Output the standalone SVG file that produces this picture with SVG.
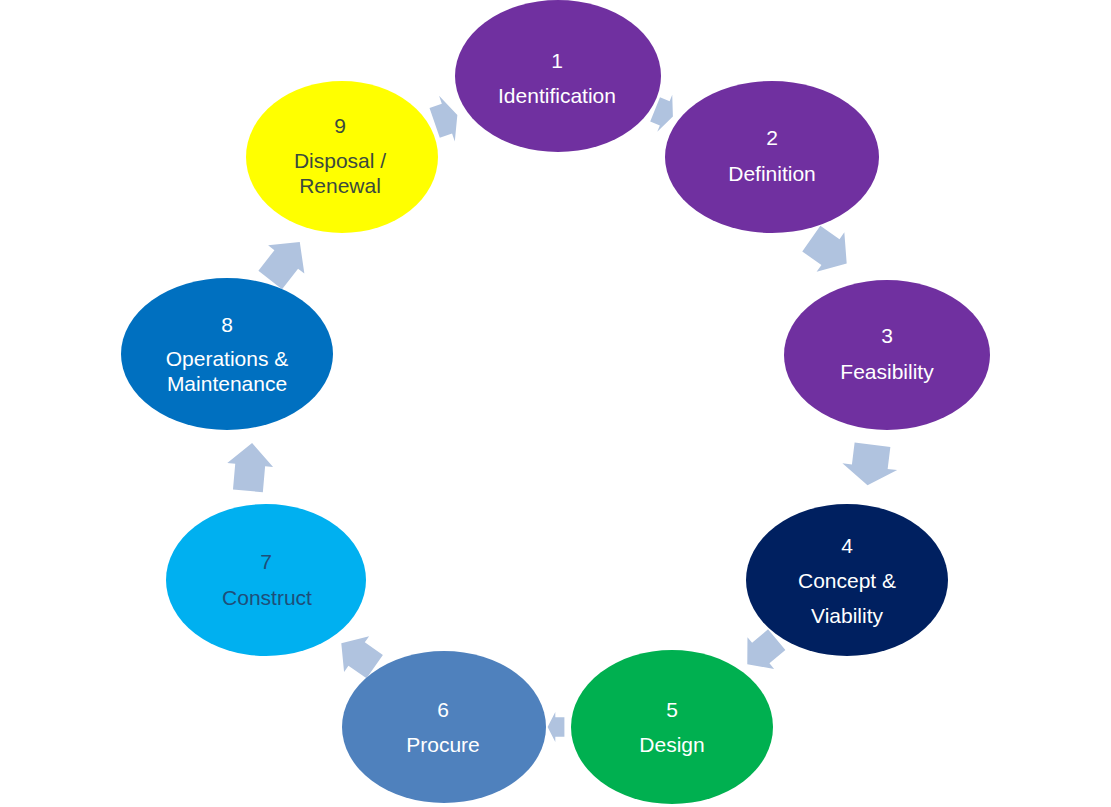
<svg xmlns="http://www.w3.org/2000/svg" width="1111" height="807" viewBox="0 0 1111 807">
<defs>
<style>
text{font-family:"Liberation Sans",Arial,sans-serif;font-size:21px;text-anchor:middle}
.w{fill:#ffffff}
.arr{fill:#b0c3df}
</style>
<polygon id="arrow" points="-24,-15 2,-15 2,-23 24,0 2,23 2,15 -24,15"/>
</defs>
<rect width="1111" height="807" fill="#ffffff"/>
<g id="connectors" class="arr">
<use href="#arrow" transform="translate(446,119) rotate(-19) scale(0.5,1.05)"/>
<use href="#arrow" transform="translate(664,113) rotate(22) scale(0.4,0.87)"/>
<use href="#arrow" transform="translate(829,251) rotate(35) scale(0.9,1.05)"/>
<use href="#arrow" transform="translate(870,465) rotate(97) scale(0.85,1.2)"/>
<use href="#arrow" transform="translate(762,652) rotate(140) scale(0.8,0.9)"/>
<use href="#arrow" transform="translate(556,727) rotate(180) scale(0.35,0.65)"/>
<use href="#arrow" transform="translate(358,655) rotate(-145) scale(0.85,0.95)"/>
<use href="#arrow" transform="translate(250,467) rotate(-85)"/>
<use href="#arrow" transform="translate(285,261) rotate(-52)"/>
</g>
<g id="n1"><ellipse cx="558" cy="76" rx="103" ry="76" fill="#7030a0"/><text class="w" x="557" y="68">1</text><text class="w" x="557" y="103">Identification</text></g>
<g id="n2"><ellipse cx="772" cy="157" rx="107" ry="76" fill="#7030a0"/><text class="w" x="772" y="145">2</text><text class="w" x="772" y="181">Definition</text></g>
<g id="n3"><ellipse cx="887" cy="355" rx="103" ry="75" fill="#7030a0"/><text class="w" x="887" y="343">3</text><text class="w" x="887" y="379">Feasibility</text></g>
<g id="n4"><ellipse cx="847" cy="580" rx="101" ry="76" fill="#002060"/><text class="w" x="847" y="553">4</text><text class="w" x="847" y="588">Concept &amp;</text><text class="w" x="847" y="623">Viability</text></g>
<g id="n5"><ellipse cx="672" cy="727" rx="101" ry="77" fill="#00b050"/><text class="w" x="672" y="717">5</text><text class="w" x="672" y="752">Design</text></g>
<g id="n6"><ellipse cx="444" cy="727" rx="102" ry="76" fill="#4f81bd"/><text class="w" x="443" y="717">6</text><text class="w" x="443" y="752">Procure</text></g>
<g id="n7"><ellipse cx="266" cy="580" rx="100" ry="76" fill="#00b0f0"/><text x="266" y="569" fill="#1f4e79">7</text><text x="267" y="605" fill="#1f4e79">Construct</text></g>
<g id="n8"><ellipse cx="227" cy="354" rx="106" ry="76" fill="#0070c0"/><text class="w" x="227" y="332">8</text><text class="w" x="227" y="366">Operations &amp;</text><text class="w" x="227" y="391">Maintenance</text></g>
<g id="n9"><ellipse cx="342" cy="157" rx="96" ry="76" fill="#ffff00"/><text x="340" y="133" fill="#3b4a3e">9</text><text x="340" y="168" fill="#3b4a3e">Disposal /</text><text x="340" y="193" fill="#3b4a3e">Renewal</text></g>
</svg>
